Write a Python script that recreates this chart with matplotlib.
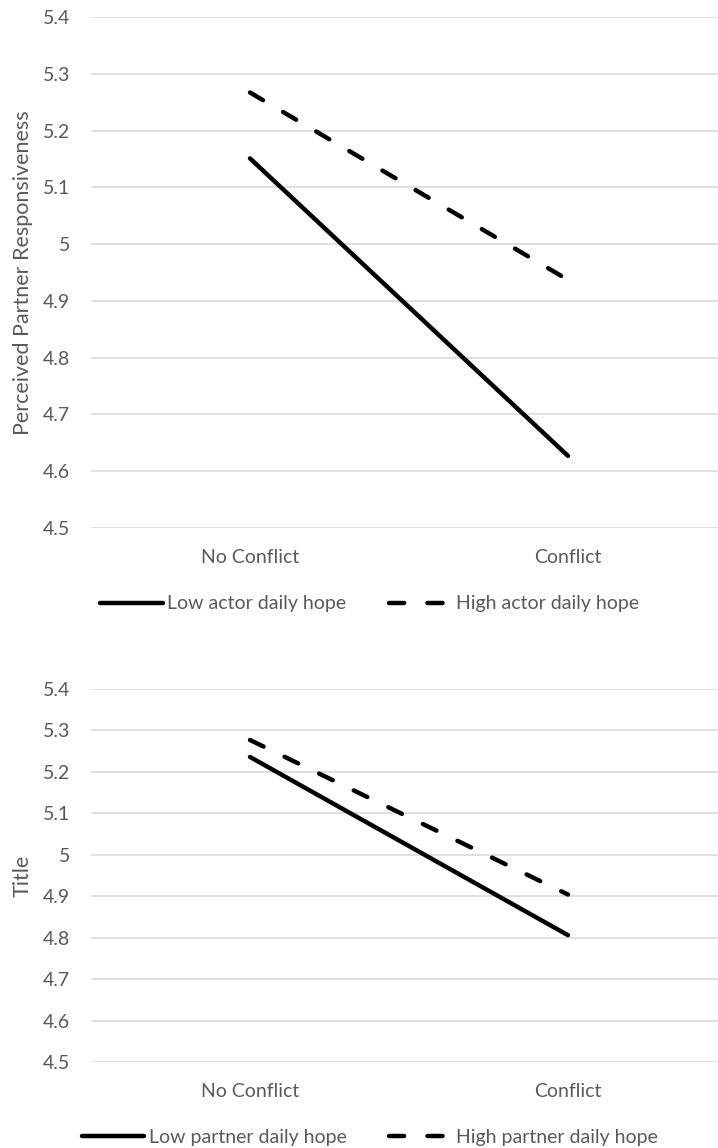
import matplotlib
matplotlib.use("Agg")
import matplotlib.pyplot as plt
from matplotlib.lines import Line2D

# categories on the x axis
conditions = ["No Conflict", "Conflict"]

# top panel (actor hope)
actor_low = [5.151, 4.627]
actor_high = [5.267, 4.937]
actor_labels = ["Low actor daily hope", "High actor daily hope"]
actor_ylabel = "Perceived Partner Responsiveness"

# bottom panel (partner hope)
partner_low = [5.236, 4.806]
partner_high = [5.277, 4.904]
partner_labels = ["Low partner daily hope", "High partner daily hope"]
partner_ylabel = "Title"

y_ticks = [4.5, 4.6, 4.7, 4.8, 4.9, 5.0, 5.1, 5.2, 5.3, 5.4]
y_ticklabels = ["4.5", "4.6", "4.7", "4.8", "4.9", "5", "5.1", "5.2", "5.3", "5.4"]

plt.rcParams['font.family'] = ['Lato', 'DejaVu Sans']
text_col = "#595959"
grid_col = "#D9D9D9"
lw = 3.2
dash = (0, (3.4, 5.25))

fig = plt.figure(figsize=(7.18, 11.48), dpi=100)

W = 718
H = 1148
ax_left = 91 / W
ax_width = 636 / W


def make_panel(rect, low, high, ylabel):
    ax = fig.add_axes(rect)
    x = range(len(conditions))
    ax.plot(x, low, color="black", lw=lw, solid_capstyle="round")
    ax.plot(x, high, color="black", lw=lw, linestyle=dash, dash_capstyle="round")
    ax.set_xlim(-0.5, len(conditions) - 0.5)
    ax.set_ylim(4.5, 5.4)
    ax.set_yticks(y_ticks)
    ax.set_yticklabels(y_ticklabels)
    ax.set_xticks(list(x))
    ax.set_xticklabels(conditions)
    ax.yaxis.grid(True, color=grid_col, lw=1.2)
    ax.set_axisbelow(True)
    for s in ax.spines.values():
        s.set_visible(False)
    ax.tick_params(axis="y", length=0, pad=15, labelsize=14, labelcolor=text_col)
    ax.tick_params(axis="x", length=0, pad=15, labelsize=14, labelcolor=text_col)
    ax.set_ylabel(ylabel, fontsize=15.5, color=text_col)
    ax.yaxis.set_label_coords(-58 / 636, 0.5)
    ax.patch.set_alpha(0)
    return ax


ax1 = make_panel([ax_left, 1 - 528 / H, ax_width, 511 / H], actor_low, actor_high, actor_ylabel)
ax2 = make_panel([ax_left, 1 - 1062 / H, ax_width, 373 / H], partner_low, partner_high, partner_ylabel)


def add_legend(labels, ypix):
    handles = [Line2D([], [], color="black", lw=lw, solid_capstyle="round"),
               Line2D([], [], color="black", lw=lw, linestyle=dash, dash_capstyle="round")]
    leg = fig.legend(handles, labels, loc="center", bbox_to_anchor=(370 / W, 1 - ypix / H),
                     ncol=2, frameon=False, fontsize=14, handlelength=3.2,
                     handletextpad=0.25, columnspacing=2.2)
    for t in leg.get_texts():
        t.set_color(text_col)


add_legend(actor_labels, 604)
add_legend(partner_labels, 1137)

fig.savefig("out.png", dpi=100)
